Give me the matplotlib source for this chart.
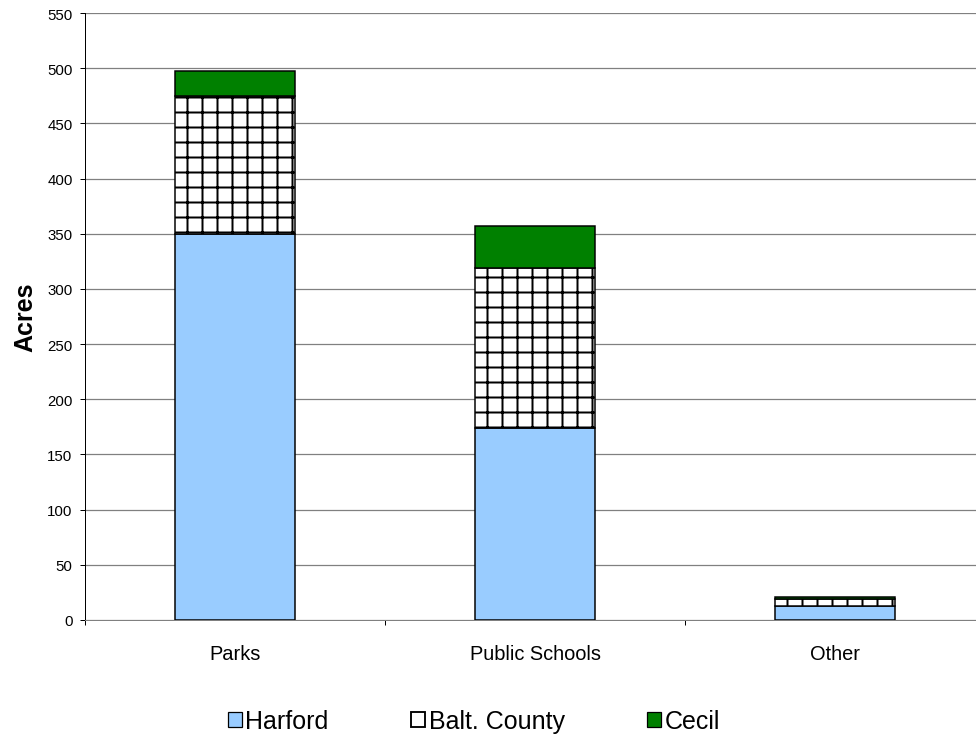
import numpy as np
import matplotlib.pyplot as plt
from matplotlib.patches import Patch

plt.rcParams['font.family'] = ['Liberation Sans', 'DejaVu Sans']
plt.rcParams['hatch.linewidth'] = 1.6

# acreage by land use, split by county
categories = ['Parks', 'Public Schools', 'Other']
harford = [350, 174, 13]
balt_county = [125, 145, 6]
cecil = [22, 38, 2]
yticks = list(range(0, 551, 50))

dpi = 90
fig = plt.figure(figsize=(976 / dpi, 742 / dpi), dpi=dpi)
# plot area runs a little past the right edge of the canvas
ax = fig.add_axes([85 / 976, 121 / 742, 900 / 976, 607 / 742])

x = np.arange(len(categories))
w = 0.4
h = np.array(harford)
b = np.array(balt_county)
c = np.array(cecil)

ax.bar(x, h, w, color='#99CCFF', edgecolor='black', linewidth=1.2, zorder=3)
ax.bar(x, b, w, bottom=h, color='white', edgecolor='black', hatch='+',
       linewidth=1.2, zorder=3)
ax.bar(x, c, w, bottom=h + b, color='#008000', edgecolor='black',
       linewidth=1.2, zorder=3)

ax.set_xlim(-0.5, len(categories) - 0.5)
ax.set_ylim(0, 550)
ax.set_yticks(yticks)
ax.yaxis.grid(True, color='#808080', linewidth=1, zorder=0)
ax.set_axisbelow(True)

# category labels centred, ticks on the boundaries
ax.set_xticks(np.arange(len(categories) + 1) - 0.5)
ax.set_xticklabels([])
ax.set_xticks(x, minor=True)
ax.set_xticklabels(categories, minor=True, fontsize=16)
ax.tick_params(axis='x', which='minor', length=0, pad=19)
ax.tick_params(axis='x', which='major', length=4, direction='out')
ax.tick_params(axis='y', labelsize=12, length=4, direction='out', pad=6)

for s in ['top', 'right']:
    ax.spines[s].set_visible(False)
ax.spines['bottom'].set_color('#808080')
ax.spines['bottom'].set_zorder(4)

ax.set_ylabel('Acres', fontsize=20, fontweight='bold', labelpad=8)

handles = [
    Patch(facecolor='#99CCFF', edgecolor='black', label='Harford'),
    Patch(facecolor='white', edgecolor='black', linewidth=1.5, label='Balt. County'),
    Patch(facecolor='#008000', edgecolor='black', label='Cecil'),
]
fig.legend(handles=handles, loc='center', bbox_to_anchor=(474 / 976, 1 - 722 / 742),
           ncol=3, frameon=False, fontsize=20, handlelength=0.55, handleheight=0.55,
           handletextpad=0.15, columnspacing=3.3)

fig.savefig('out.png', dpi=dpi)
